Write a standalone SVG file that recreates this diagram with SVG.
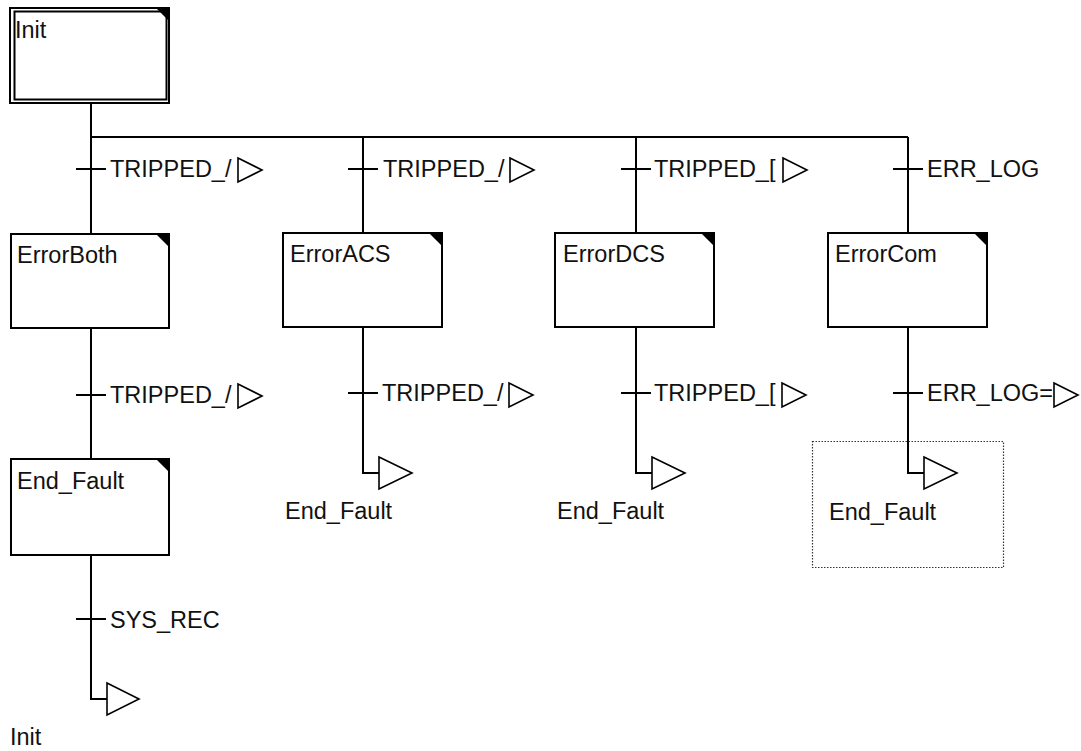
<svg xmlns="http://www.w3.org/2000/svg" width="1081" height="751" viewBox="0 0 1081 751">
<style>
.ln{stroke:#000;stroke-width:2;fill:none}
.box{fill:#fff;stroke:#000;stroke-width:2}
.crn{fill:#000}
.t{font-family:"Liberation Sans",Arial,sans-serif;font-size:23.5px;fill:#111}
.tri{fill:#fff;stroke:#000;stroke-width:1.6}
.sel{fill:none;stroke:#333;stroke-width:1.2;stroke-dasharray:1.5 1.5}
</style>
<rect width="1081" height="751" fill="#fff"/>
<g id="connectors">
<path class="ln" d="M91 103V234 M91 137H908 M363 137V233 M636 137V233 M908 137V233"/>
<path class="ln" d="M91 328V459 M91 555V699H107 M363 327V473H379 M636 327V473H652 M908 327V473H924"/>
<path class="ln" d="M76 169H106 M348 169H378 M621 169H651 M893 169H923"/>
<path class="ln" d="M76 395H106 M348 393H378 M621 393H651 M893 393H923 M76 619H106"/>
<polygon class="tri" points="238,158 262,170 238,182"/>
<polygon class="tri" points="510,158 534,170 510,182"/>
<polygon class="tri" points="783,158 807,170 783,182"/>
<polygon class="tri" points="238,384 262,396 238,408"/>
<polygon class="tri" points="509,383 533,395 509,407"/>
<polygon class="tri" points="782,383 806,395 782,407"/>
<polygon class="tri" points="1054,383 1078,395 1054,407"/>
<text class="t" x="110" y="177">TRIPPED_/</text>
<text class="t" x="383" y="177">TRIPPED_/</text>
<text class="t" x="654" y="177">TRIPPED_[</text>
<text class="t" x="927" y="177">ERR_LOG</text>
<text class="t" x="110" y="403">TRIPPED_/</text>
<text class="t" x="382" y="401">TRIPPED_/</text>
<text class="t" x="654" y="401">TRIPPED_[</text>
<text class="t" x="927" y="401">ERR_LOG=</text>
<text class="t" x="110" y="628">SYS_REC</text>
</g>
<g id="Init">
<rect class="box" x="10" y="8" width="159" height="95"/>
<rect class="ln" x="14.5" y="11.5" width="152" height="88" stroke-width="1.5"/>
<polygon class="crn" points="157,9 168,9 168,20"/>
<text class="t" x="15" y="38">Init</text>
</g>
<g id="ErrorBoth">
<rect class="box" x="11" y="234" width="158" height="94"/>
<polygon class="crn" points="157,235 168,235 168,246"/>
<text class="t" x="17" y="263">ErrorBoth</text>
</g>
<g id="ErrorACS">
<rect class="box" x="283" y="233" width="159" height="94"/>
<polygon class="crn" points="430,234 441,234 441,245"/>
<text class="t" x="290" y="262">ErrorACS</text>
</g>
<g id="ErrorDCS">
<rect class="box" x="555" y="233" width="159" height="94"/>
<polygon class="crn" points="702,234 713,234 713,245"/>
<text class="t" x="563" y="262">ErrorDCS</text>
</g>
<g id="ErrorCom">
<rect class="box" x="828" y="233" width="159" height="94"/>
<polygon class="crn" points="975,234 986,234 986,245"/>
<text class="t" x="835" y="262">ErrorCom</text>
</g>
<g id="End_Fault">
<rect class="box" x="11" y="459" width="158" height="96"/>
<polygon class="crn" points="157,460 168,460 168,471"/>
<text class="t" x="17" y="489">End_Fault</text>
</g>
<g id="jump-End_Fault-1">
<text class="t" x="285" y="519">End_Fault</text>
</g>
<g id="jump-End_Fault-2">
<text class="t" x="557" y="519">End_Fault</text>
</g>
<g id="jump-End_Fault-3">
<rect class="sel" x="812.5" y="441.5" width="191" height="126"/>
<text class="t" x="829" y="520">End_Fault</text>
</g>
<g id="jump-Init">
<polygon class="tri" points="107,683 139,699 107,715"/>
<text class="t" x="10" y="745">Init</text>
</g>
<g id="jump-tris">
<polygon class="tri" points="379,457 412,473 379,489"/>
<polygon class="tri" points="652,457 685,473 652,489"/>
<polygon class="tri" points="924,457 957,473 924,489"/>
</g>
</svg>
